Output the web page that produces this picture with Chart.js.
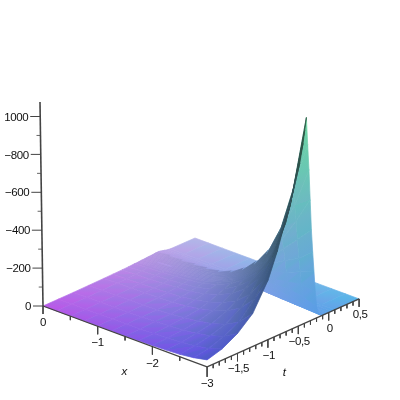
<!DOCTYPE html>
<html>
<head>
<meta charset="utf-8">
<style>html,body{margin:0;background:#fff}</style>
<script src="https://cdn.jsdelivr.net/npm/chart.js@4"></script>
</head>
<body>
<div style="width:400px;height:400px"><canvas id="myChart" width="400" height="400"></canvas></div>
<script>
// surface: one row of heights per x, one column per t
var xVals = [0, -0.25, -0.5, -0.75, -1, -1.25, -1.5, -1.75, -2, -2.25, -2.5, -2.75, -3];
var tVals = [-2, -1.75, -1.5, -1.25, -1, -0.85, -0.7, -0.6, -0.5, -0.45, -0.425, -0.4, -0.375, -0.35, -0.325, -0.3, -0.275, -0.25, -0.225, -0.2, -0.175, -0.15, -0.125, -0.1, -0.075, -0.05, -0.025, 0, 0.05, 0.1, 0.5];

var row0 = [0,0,0,1,2,3,4,5,7,7,8,8,9,9,10,10,11,11,12,12,13,14,14,15,13,11,9,7,3,1,0];
var row1 = [0,1,1,2,4,6,8,10,13,14,14,15,16,17,17,18,18,19,20,21,22,23,25,22,18,15,11,8,3,0,0];
var row2 = [1,1,1,3,5,7,10,13,16,17,18,19,20,21,21,22,23,24,25,26,28,30,26,22,18,13,10,7,2,0,0];
var row3 = [1,1,2,4,7,10,14,18,22,24,25,26,27,28,29,30,31,33,35,38,40,35,30,24,18,13,9,5,1,0,0];
var row4 = [1,2,3,5,9,13,19,23,29,31,32,34,35,36,38,40,42,44,47,50,43,37,30,22,17,12,7,3,1,0,0];
var row5 = [2,3,4,7,12,18,25,32,39,42,44,46,47,49,51,55,57,61,65,56,48,38,29,21,15,8,4,2,0,0,0];
var row6 = [2,4,7,11,19,28,39,49,59,64,66,69,72,75,80,84,89,95,82,70,56,42,31,22,12,5,2,1,0,0,0];
var row7 = [4,6,11,18,30,43,62,76,90,98,102,106,111,118,123,132,140,121,104,83,62,46,32,18,8,4,1,0,0,0,0];
var row8 = [6,9,16,28,47,68,94,117,137,149,155,162,172,180,193,205,177,152,121,90,68,47,27,11,5,2,1,0,0,0,0];
var row9 = [9,14,25,41,72,103,145,176,207,223,233,248,260,277,295,255,218,174,130,97,68,38,16,7,3,1,0,0,0,0,0];
var row10 = [13,22,39,64,114,163,227,273,319,348,370,387,414,440,381,326,260,194,145,101,57,24,11,4,1,0,0,0,0,0,0];
var row11 = [22,35,63,102,188,265,367,439,515,571,598,639,680,588,503,401,299,224,156,88,37,17,7,2,0,0,0,0,0,0,0];
var row12 = [37,60,105,175,317,451,620,728,860,957,1022,1087,940,804,641,478,359,250,141,60,27,11,3,0,0,0,0,0,0,0,0];
var zRows = [row0,row1,row2,row3,row4,row5,row6,row7,row8,row9,row10,row11,row12];

// axis ticks and their labels
var zTicks = [0, 200, 400, 600, 800, 1000];
var zLabels = ['0', '\u2212200', '\u2212400', '\u2212600', '\u2212800', '1000'];
var zMinor = [100, 300, 500, 700, 900];
var xTicks = [0, -1, -2, -3];
var xLabels = ['0', '\u22121', '\u22122', '\u22123'];
var xMinor = [-0.5, -1.5, -2.5];
var tTicks = [-1.5, -1, -0.5, 0, 0.5];
var tLabels = ['\u22121,5', '\u22121', '\u22120,5', '0', '0,5'];
var tMinor = [-1.9, -1.8, -1.7, -1.6, -1.4, -1.3, -1.2, -1.1, -0.9, -0.8, -0.7, -0.6, -0.4, -0.3, -0.2, -0.1, 0.1, 0.2, 0.3, 0.4];
var zTop = 1076;

// fixed view of the box, scales below run in the same units
function project(x, t, z) {
  var sx = 43 + 54.7 * -x + 60.8 * (t + 2);
  var sy = 306 + 20.3 * -x - 27.2 * (t + 2) - 0.1895 * z;
  return { x: sx + (sx - 200) * z * 1.78e-5, y: sy };
}

// the rising side gets darker with height
function shade(z) {
  return Math.max(0.4, 1 / (1 + z / 450));
}

function baseColor(i, j, lit) {
  var u = -xVals[i] / 3, v = (tVals[j] + 2) / 2.5, w = zRows[i][j] / 1087;
  var s = lit ? 1 : shade(zRows[i][j]);
  return [(185 - 95 * u + 20 * w) * s, (90 + 90 * v + 67 * w) * s, (232 - 72 * w) * s];
}

function css(c) {
  return 'rgb(' + Math.round(c[0]) + ',' + Math.round(c[1]) + ',' + Math.round(c[2]) + ')';
}

function lum(c) {
  return 0.3 * c[0] + 0.59 * c[1] + 0.11 * c[2];
}

// one gradient per cell, lined up so the four corner colours land where they belong
function cellGradient(g2d, pts, cols) {
  var ux = pts[2].x - pts[0].x, uy = pts[2].y - pts[0].y;
  var vx = pts[1].x - pts[3].x, vy = pts[1].y - pts[3].y;
  var du = lum(cols[2]) - lum(cols[0]), dv = lum(cols[1]) - lum(cols[3]);
  var det = ux * vy - uy * vx;
  var gx = ux, gy = uy;
  if (Math.abs(det) > 1 && (du != 0 || dv != 0)) {
    gx = (du * vy - dv * uy) / det;
    gy = (ux * dv - vx * du) / det;
  }
  var pos = pts.map(function (p) { return p.x * gx + p.y * gy; });
  var lo = Math.min.apply(null, pos), hi = Math.max.apply(null, pos);
  var n = gx * gx + gy * gy;
  var a = pts[pos.indexOf(lo)];
  var d = (hi - lo) / n;
  var grad = g2d.createLinearGradient(a.x, a.y, a.x + gx * d, a.y + gy * d);
  pts.forEach(function (p, k) {
    grad.addColorStop(hi > lo ? (pos[k] - lo) / (hi - lo) : k / 3, css(cols[k]));
  });
  return grad;
}

var ctx = document.getElementById('myChart');
var g2d = ctx.getContext('2d');
var datasets = [];

function lineSet(pts, color, width) {
  datasets.push({ data: pts, showLine: true, pointRadius: 0, borderColor: color, borderWidth: width, fill: false });
}

function tick(x, t, len) {
  var p = project(x, t, 0);
  lineSet([p, { x: p.x, y: p.y + len }], '#444', 1);
}

// axes on top, so they go first
lineSet([project(0, -2, 0), project(0, -2, zTop)], '#444', 1.6);
lineSet([project(0, -2, 0), project(-3, -2, 0)], '#444', 1.2);
lineSet([project(-3, -2, 0), project(-3, 0.5, 0)], '#444', 1.2);
zTicks.forEach(function (z) { var p = project(0, -2, z); lineSet([p, { x: p.x - 10, y: p.y }], '#444', 1); });
zMinor.forEach(function (z) { var p = project(0, -2, z); lineSet([p, { x: p.x - 4, y: p.y }], '#666', 1); });
xTicks.forEach(function (x) { tick(x, -2, x == -3 ? 10 : 8); });
xMinor.forEach(function (x) { tick(x, -2, 4); });
tTicks.forEach(function (t) { tick(-3, t, 8); });
tMinor.forEach(function (t) { tick(-3, t, 4); });

// thin dark crease along the lower part of the ridge
var crease = [];
for (var r = 0; r <= 9; r++) {
  var top = Math.max.apply(null, zRows[r]);
  crease.push(project(xVals[r], tVals[zRows[r].indexOf(top)], top));
}
lineSet(crease, 'rgba(60,60,100,0.8)', 1.1);

// cells near to far: the library paints the last dataset first
for (var i = xVals.length - 2; i >= 0; i--) {
  for (var j = 0; j < tVals.length - 1; j++) {
    var pts = [
      project(xVals[i], tVals[j], zRows[i][j]),
      project(xVals[i], tVals[j + 1], zRows[i][j + 1]),
      project(xVals[i + 1], tVals[j + 1], zRows[i + 1][j + 1]),
      project(xVals[i + 1], tVals[j], zRows[i + 1][j])
    ];
    var lit = zRows[i][j + 1] + zRows[i + 1][j + 1] - zRows[i][j] - zRows[i + 1][j] <= 0;
    var cols = [
      baseColor(i, j, lit),
      baseColor(i, j + 1, lit),
      baseColor(i + 1, j + 1, lit),
      baseColor(i + 1, j, lit)
    ];
    var grad = cellGradient(g2d, pts, cols);
    datasets.push({ data: pts.concat([pts[0]]), showLine: true, pointRadius: 0, fill: 'shape', backgroundColor: grad, borderColor: grad, borderWidth: 0.7, tension: 0 });
  }
}

function drawText(chart, s, x, t, z, dx, dy, font) {
  var p = project(x, t, z);
  var c = chart.ctx;
  c.font = font;
  c.fillText(s, chart.scales.x.getPixelForValue(p.x) + dx, chart.scales.y.getPixelForValue(p.y) + dy);
}

var axisText = {
  id: 'axisText',
  afterDraw: function (chart) {
    var c = chart.ctx, f = '11.5px "Liberation Sans"';
    c.save();
    c.fillStyle = '#111';
    c.textBaseline = 'middle';
    c.letterSpacing = '-0.4px';
    c.textAlign = 'right';
    zTicks.forEach(function (z, k) { drawText(chart, zLabels[k], 0, -2, z, -12, 1, f); });
    c.textAlign = 'center';
    xTicks.forEach(function (x, k) { drawText(chart, xLabels[k], x, -2, 0, 0, 17, f); });
    tTicks.forEach(function (t, k) { drawText(chart, tLabels[k], -3, t, 0, 1, 16, f); });
    drawText(chart, 'x', -1.5, -2, 0, -1, 35, 'italic 11.5px "Liberation Sans"');
    drawText(chart, 't', -3, -0.75, 0, 1, 40, 'italic 11.5px "Liberation Sans"');
    c.restore();
  }
};

var myChart = new Chart(ctx, {
  type: 'scatter',
  data: { datasets: datasets },
  plugins: [axisText],
  options: {
    responsive: false,
    animation: false,
    layout: { padding: 0 },
    plugins: { legend: { display: false }, tooltip: { enabled: false } },
    scales: {
      x: { type: 'linear', display: false, min: 0, max: 400 },
      y: { type: 'linear', display: false, min: 0, max: 400, reverse: true }
    }
  }
});
</script>
</body>
</html>
